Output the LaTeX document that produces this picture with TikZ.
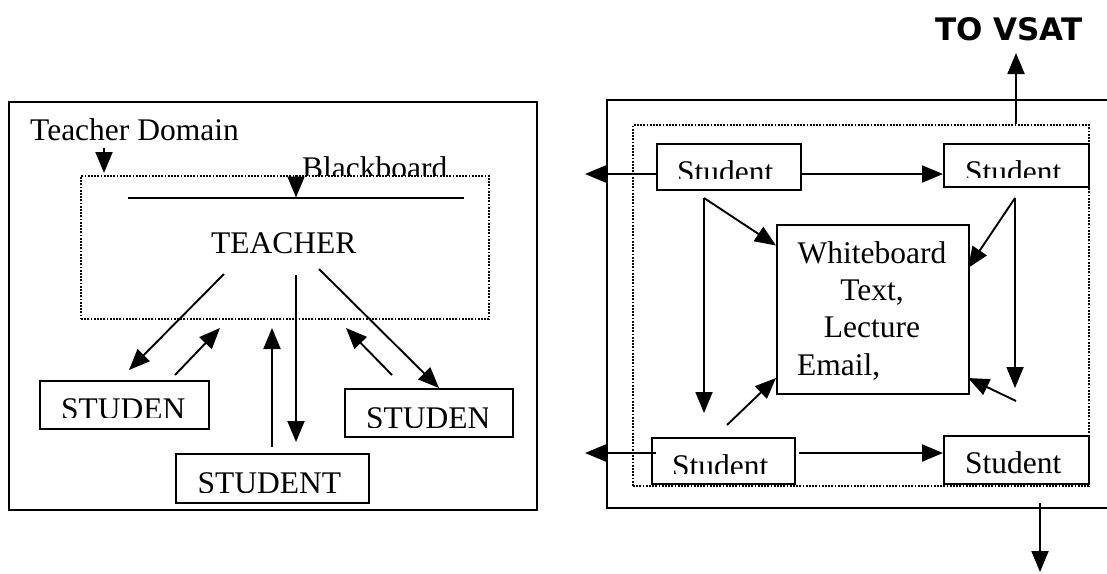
\documentclass[tikz,border=0pt]{standalone}
\usepackage{fontspec}
\usetikzlibrary{arrows.meta}
\newfontfamily\tdserif{Liberation Serif}
\newfontfamily\tdsans{DejaVu Sans}
\newcommand\labfont{\tdserif\fontsize{31.5}{37}\selectfont}
\newcommand\vsatfont{\tdsans\bfseries\fontsize{31}{36}\selectfont}
\tikzset{
  box/.style={draw, line width=2.2pt, inner sep=0pt, anchor=north west},
  dotbox/.style={box, line width=2pt, dash pattern=on 1.8pt off 1.4pt},
  arr/.style={-{Triangle[length=21pt,width=17pt]}, line width=1.9pt},
  lbl/.style={font=\labfont, inner sep=0pt, anchor=base west},
  plain/.style={line width=1.9pt},
}
\begin{document}
\begin{tikzpicture}[x=1pt,y=-1pt]
\useasboundingbox (0,0) rectangle (1107,573);

% ---------- teacher domain ----------
\node[box, minimum width=528.5pt, minimum height=408pt] (ldom) at (7.5,101) {};
\node[dotbox, minimum width=408pt, minimum height=143pt] (tdot) at (80,175) {};
\node[lbl] (tdtext) at (30,140) {Teacher Domain};
\coordinate (tdA) at (104,148);
\coordinate (tdB) at (104,173);
\draw[arr] (tdA) -- (tdB);

\begin{scope}
  \clip (290,140) rectangle (470,175);
  \node[lbl] (bbtext) at (302,178) {Blackboard};
\end{scope}
\coordinate (bbA) at (296,175);
\coordinate (bbB) at (296,197.5);
\draw[arr] (bbA) -- (bbB);
\coordinate (boardL) at (127.5,198);
\coordinate (boardR) at (464,198);
\draw[plain] (boardL) -- (boardR);

\node[lbl] (teacher) at (211,253) {TEACHER};

% student boxes
\node[box, minimum width=169pt, minimum height=48pt] (stL) at (39,380) {};
\node[box, minimum width=168pt, minimum height=48pt] (stR) at (344,388) {};
\node[box, minimum width=193pt, minimum height=49pt] (stM) at (175,453) {};
\begin{scope}
  \clip (50,385) rectangle (184,417);
  \node[lbl] (stLt) at (61,419) {STUDENT};
\end{scope}
\begin{scope}
  \clip (355,393) rectangle (487.5,427);
  \node[lbl] (stRt) at (366,428) {STUDENT};
\end{scope}
\begin{scope}
  \clip (185,458) rectangle (360,492);
  \node[lbl] (stMt) at (197.5,493) {STUDENT};
\end{scope}

% teacher <-> students
\coordinate (a1s) at (224,274);  \coordinate (a1e) at (129,370);
\coordinate (a2s) at (175,375);  \coordinate (a2e) at (220,328);
\coordinate (a3s) at (272,447);  \coordinate (a3e) at (272,328);
\coordinate (a4s) at (296,275);  \coordinate (a4e) at (296,442);
\coordinate (a5s) at (319,269);  \coordinate (a5e) at (439,388);
\coordinate (a6s) at (392,375);  \coordinate (a6e) at (346,328);
\draw[arr] (a1s) -- (a1e);
\draw[arr] (a2s) -- (a2e);
\draw[arr] (a3s) -- (a3e);
\draw[arr] (a4s) -- (a4e);
\draw[arr] (a5s) -- (a5e);
\draw[arr] (a6s) -- (a6e);

% ---------- student domain ----------
\coordinate (rTR) at (1107,100);
\coordinate (rTL) at (607,100);
\coordinate (rBL) at (607,508);
\coordinate (rBR) at (1107,508);
\draw[line width=2.2pt] (rTR) -- (rTL) -- (rBL) -- (rBR);
\node[dotbox, minimum width=456pt, minimum height=361pt] (rdot) at (632,124) {};

\node[lbl, font=\vsatfont] (vsat) at (935,40) {TO VSAT};
\coordinate (vsA) at (1016,124);
\coordinate (vsB) at (1016,53);
\draw[arr] (vsA) -- (vsB);
\coordinate (outA) at (1040,503);
\coordinate (outB) at (1040,572);
\draw[arr] (outA) -- (outB);

\node[box, minimum width=144.5pt, minimum height=46pt] (s1) at (655.5,143) {};
\node[box, minimum width=145pt, minimum height=43pt] (s2) at (943,143) {};
\node[box, minimum width=143.5pt, minimum height=46pt] (s3) at (650.5,437) {};
\node[box, minimum width=145pt, minimum height=48pt] (s4) at (943,435) {};
\begin{scope}
  \clip (660,146) rectangle (795,178);
  \node[lbl] (s1t) at (677,182) {Student};
\end{scope}
\begin{scope}
  \clip (948,146) rectangle (1083,177);
  \node[lbl] (s2t) at (965,182) {Student};
\end{scope}
\begin{scope}
  \clip (655,440) rectangle (790,473);
  \node[lbl] (s3t) at (672,476) {Student};
\end{scope}
\node[lbl] (s4t) at (965,473) {Student};

% whiteboard
\node[box, minimum width=192pt, minimum height=169pt] (wb) at (776,224) {};
\node[lbl, anchor=base] (wb1) at (872,263) {Whiteboard};
\node[lbl, anchor=base] (wb2) at (872,300) {Text,};
\node[lbl, anchor=base] (wb3) at (872,337) {Lecture};
\node[lbl] (wb4) at (797,375) {Email,};

% student links
\coordinate (s1L) at (655.5,174);  \coordinate (xL1) at (585,174);
\draw[arr] (s1L) -- (xL1);
\coordinate (s1R) at (800,174);    \coordinate (s2L) at (943,174);
\draw[arr] (s1R) -- (s2L);
\coordinate (s3L) at (656,453);    \coordinate (xL2) at (585,453);
\draw[arr] (s3L) -- (xL2);
\coordinate (s3R) at (799,453);    \coordinate (s4L) at (943,453);
\draw[arr] (s3R) -- (s4L);

% links to the whiteboard
\coordinate (vL) at (704,198);
\coordinate (vLd) at (704,413);
\coordinate (wbL1) at (776,245.5);
\draw[arr] (vL) -- (vLd);
\draw[arr] (vL) -- (wbL1);
\coordinate (vR) at (1015,198);
\coordinate (vRd) at (1015,388);
\coordinate (wbR1) at (968,268);
\draw[arr] (vR) -- (vRd);
\draw[arr] (vR) -- (wbR1);
\coordinate (bLs) at (727,425);
\coordinate (wbL2) at (776,378);
\draw[arr] (bLs) -- (wbL2);
\coordinate (bRs) at (1016,401);
\coordinate (wbR2) at (968,378);
\draw[arr] (bRs) -- (wbR2);
\end{tikzpicture}
\end{document}
